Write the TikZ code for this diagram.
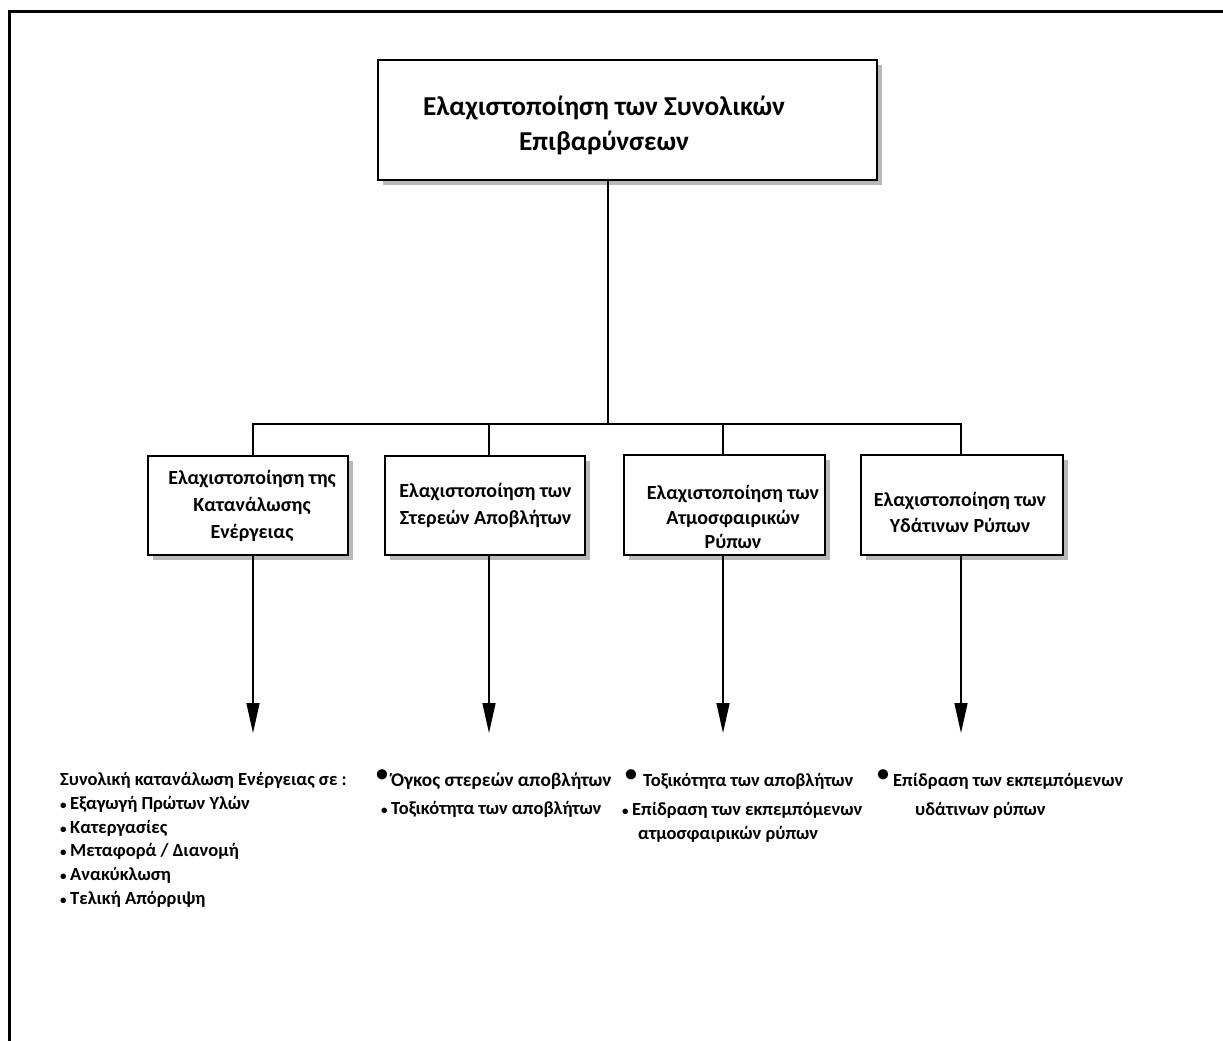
\documentclass[tikz,border=0pt]{standalone}
\usepackage{fontspec}
\setmainfont{Carlito}
\usetikzlibrary{arrows.meta,shadows}
\newcommand{\smbul}{{\fontsize{13}{15}\selectfont•}\hspace{3.5pt}}
\newcommand{\bgbul}{\raisebox{5pt}{\fontsize{24}{24}\selectfont •}}
\begin{document}
\begin{tikzpicture}[x=1pt,y=-1pt,
  box/.style={draw,line width=1.8pt,fill=white,inner sep=0pt,
    drop shadow={shadow xshift=5pt,shadow yshift=-5pt,fill=gray!55,opacity=1}},
  boxtext/.style={align=center,inner sep=0pt,font=\bfseries\fontsize{20}{27}\selectfont},
  conn/.style={line width=1.6pt},
  arr/.style={line width=1.4pt,-{Triangle[length=30pt,width=13pt]}},
  big/.style={anchor=base west,inner sep=0pt,font=\bfseries\fontsize{18.5}{22}\selectfont}]
\useasboundingbox (0,0) rectangle (1223,1041);
\draw[line width=3pt] (9,1041) -- (9,12) -- (1223,12);

% boxes
\node[box,minimum width=499pt,minimum height=120pt] (top) at (627.5,120) {};
\node[box,minimum width=200pt,minimum height=99pt] (b1) at (248,505.5) {};
\node[box,minimum width=200pt,minimum height=99pt] (b2) at (485,505.5) {};
\node[box,minimum width=201pt,minimum height=100pt] (b3) at (724.5,505) {};
\node[box,minimum width=202pt,minimum height=100pt] (b4) at (962,505) {};

% box texts
\node[boxtext,font=\bfseries\fontsize{27.3}{35}\selectfont] (toptxt) at (604,125)
  {Ελαχιστοποίηση των Συνολικών\\Επιβαρύνσεων};
\node[boxtext] (b1txt) at (252,506) {Ελαχιστοποίηση της\\Κατανάλωσης\\Ενέργειας};
\node[boxtext] (b2txt) at (485.5,505.5) {Ελαχιστοποίηση των\\Στερεών Αποβλήτων};
\node[boxtext,font=\bfseries\fontsize{20}{24.5}\selectfont] (b3txt) at (733,517)
  {Ελαχιστοποίηση των\\Ατμοσφαιρικών\\Ρύπων};
\node[boxtext,font=\bfseries\fontsize{20}{26}\selectfont] (b4txt) at (960,512.5)
  {Ελαχιστοποίηση των\\Υδάτινων Ρύπων};

% connectors
\coordinate (j0) at (608,424);
\coordinate (l1) at (253,424);
\coordinate (l2) at (489,424);
\coordinate (l3) at (723,424);
\coordinate (l4) at (961,424);
\coordinate (t1) at (253,733);
\coordinate (t2) at (489,733);
\coordinate (t3) at (723,733);
\coordinate (t4) at (961,733);

\draw[conn] (top.south -| j0) -- (j0);
\draw[conn] (l1 |- b1.north) -- (l1) -- (l4) -- (l4 |- b4.north);
\draw[conn] (l2) -- (l2 |- b2.north);
\draw[conn] (l3) -- (l3 |- b3.north);

\draw[arr] (t1 |- b1.south) -- (t1);
\draw[arr] (t2 |- b2.south) -- (t2);
\draw[arr] (t3 |- b3.south) -- (t3);
\draw[arr] (t4 |- b4.south) -- (t4);

% column 1
\node[big] (c1a) at (60,785) {Συνολική κατανάλωση Ενέργειας σε :};
\node[big] (c1b) at (60,809) {\smbul Εξαγωγή Πρώτων Υλών};
\node[big] (c1c) at (60,833) {\smbul Κατεργασίες};
\node[big] (c1d) at (60,856) {\smbul Μεταφορά / Διανομή};
\node[big] (c1e) at (60,880) {\smbul Ανακύκλωση};
\node[big] (c1f) at (60,904) {\smbul Τελική Απόρριψη};

% column 2
\node[big,font=\bfseries\fontsize{19.3}{22}\selectfont] (c2a) at (376,786) {\bgbul\hspace{3pt}Όγκος στερεών αποβλήτων};
\node[big] (c2b) at (381,814) {\smbul Τοξικότητα των αποβλήτων};

% column 3
\node[big] (c3a) at (625,786) {\bgbul\hspace{6pt}Τοξικότητα των αποβλήτων};
\node[big] (c3b) at (622,815) {\smbul Επίδραση των εκπεμπόμενων};
\node[big] (c3c) at (638,839) {ατμοσφαιρικών ρύπων};

% column 4
\node[big] (c4a) at (877,786) {\bgbul\hspace{4pt}Επίδραση των εκπεμπόμενων};
\node[big] (c4b) at (915,815) {υδάτινων ρύπων};
\end{tikzpicture}
\end{document}
